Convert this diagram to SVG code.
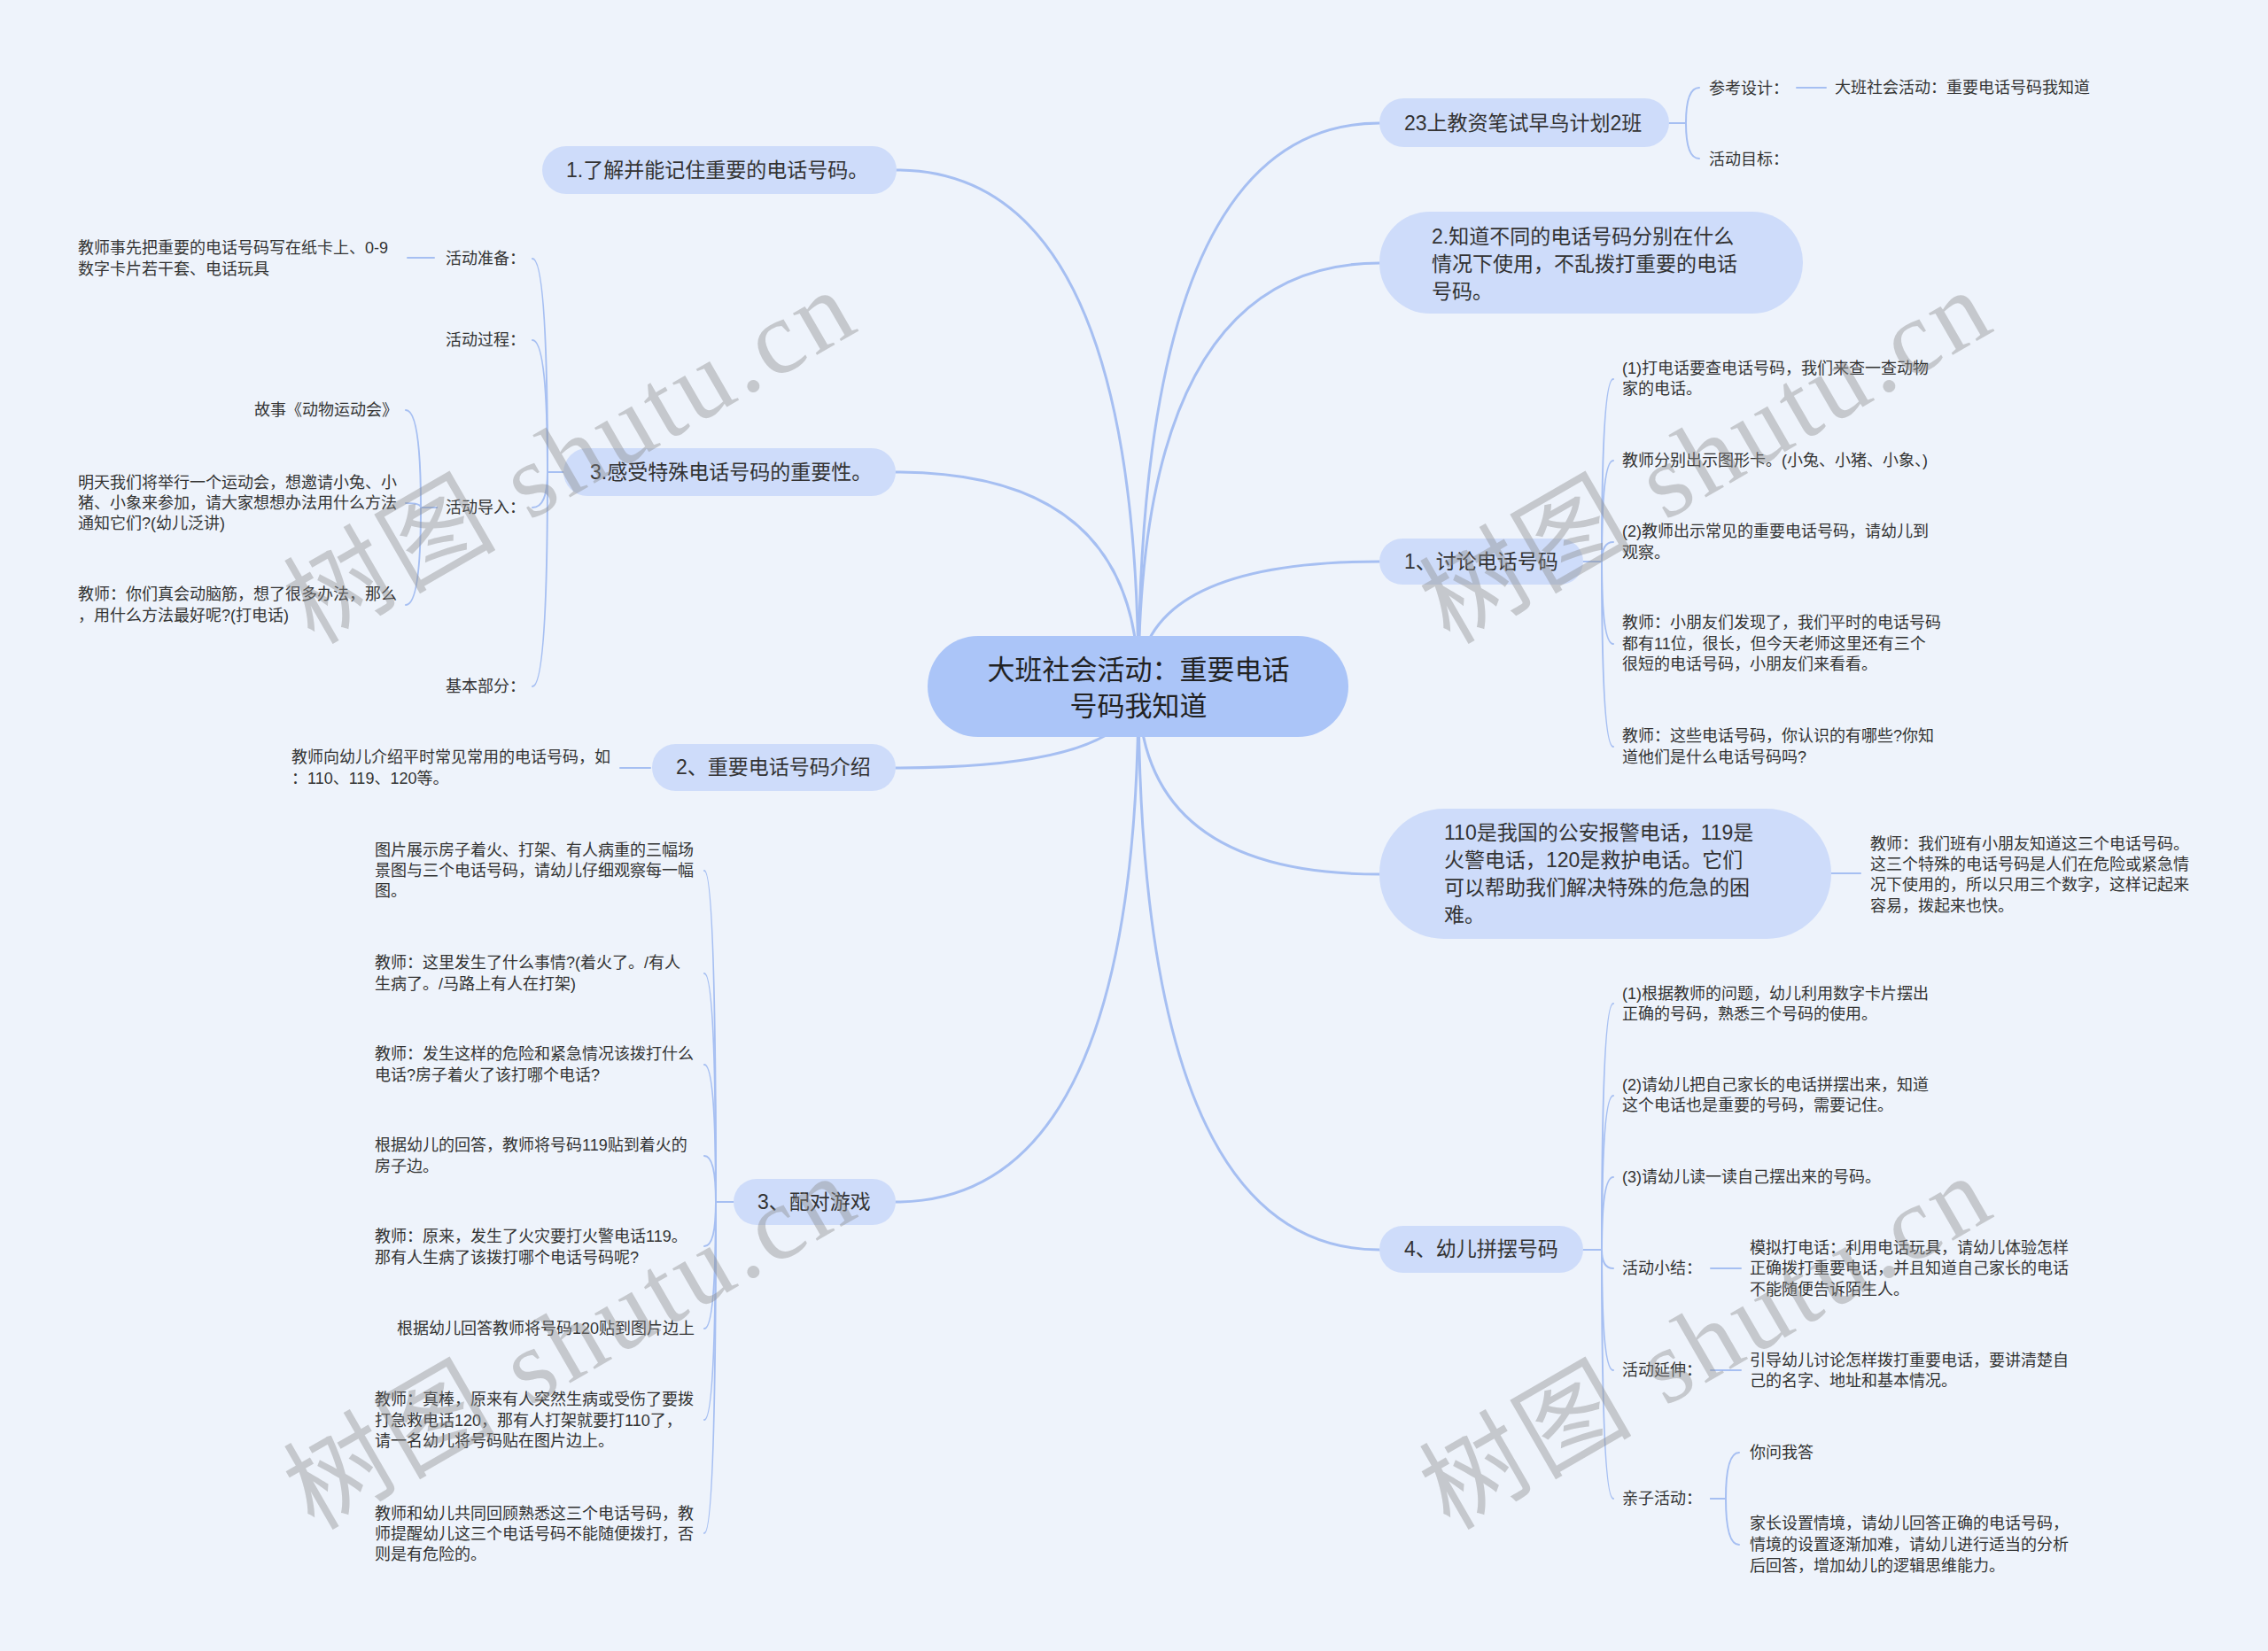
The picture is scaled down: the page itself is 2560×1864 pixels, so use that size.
<svg xmlns="http://www.w3.org/2000/svg" width="2560" height="1864" viewBox="0 0 2560 1864">
<style>
text{font-family:"Liberation Sans","Noto Sans CJK SC",sans-serif;fill:#333;dominant-baseline:central}
.ct{font-size:31px;fill:#222;text-anchor:middle}
.bt{font-size:23px}
.st{font-size:18px}
.e{text-anchor:end}
.cn{fill:#abc5f8}
.bn{fill:#cedcfa}
.m{fill:none;stroke:#a6bff2;stroke-width:3;stroke-linecap:round}
.k{fill:none;stroke:#a6bff2;stroke-width:2;stroke-linecap:round}
.wm{font-family:"Liberation Serif","Noto Sans CJK SC",serif;font-size:118px;letter-spacing:5px;fill:#8c8c8c;fill-opacity:0.42;text-anchor:middle}
</style>
<rect width="2560" height="1864" fill="#eef3fb"/>
<g id="connectors">
<path class="m" d="M1285 775 Q1285 192 1012 192"/>
<path class="m" d="M1285 775 Q1285 533 1011 533"/>
<path class="m" d="M1285 775 Q1285 867 1011 867"/>
<path class="m" d="M1285 775 Q1285 1357 1011 1357"/>
<path class="m" d="M1285 775 Q1285 139 1557 139"/>
<path class="m" d="M1285 775 Q1285 297 1557 297"/>
<path class="m" d="M1285 775 Q1285 634 1557 634"/>
<path class="m" d="M1285 775 Q1285 987 1557 987"/>
<path class="m" d="M1285 775 Q1285 1411 1557 1411"/>
<path class="k" d="M636 533 H618 Q618 292 601 292"/>
<path class="k" d="M636 533 H618 Q618 384 601 384"/>
<path class="k" d="M636 533 H618 Q618 573 601 573"/>
<path class="k" d="M636 533 H618 Q618 775 601 775"/>
<path class="k" d="M490 291 H460"/>
<path class="k" d="M493 573 H475 Q475 463 458 463"/>
<path class="k" d="M493 573 H475 Q475 568 458 568"/>
<path class="k" d="M493 573 H475 Q475 683 458 683"/>
<path class="k" d="M734 867 H700"/>
<path class="k" d="M828 1357 H808 Q808 983 795 983"/>
<path class="k" d="M828 1357 H808 Q808 1099 795 1099"/>
<path class="k" d="M828 1357 H808 Q808 1202 795 1202"/>
<path class="k" d="M828 1357 H808 Q808 1305 795 1305"/>
<path class="k" d="M828 1357 H808 Q808 1407 795 1407"/>
<path class="k" d="M828 1357 H808 Q808 1500 795 1500"/>
<path class="k" d="M828 1357 H808 Q808 1603 795 1603"/>
<path class="k" d="M828 1357 H808 Q808 1731 795 1731"/>
<path class="k" d="M1884 139 H1903 Q1903 99 1918 99"/>
<path class="k" d="M1884 139 H1903 Q1903 179 1918 179"/>
<path class="k" d="M2028 99 H2061"/>
<path class="k" d="M1787 634 H1808 Q1808 428 1821 428"/>
<path class="k" d="M1787 634 H1808 Q1808 520 1821 520"/>
<path class="k" d="M1787 634 H1808 Q1808 612 1821 612"/>
<path class="k" d="M1787 634 H1808 Q1808 727 1821 727"/>
<path class="k" d="M1787 634 H1808 Q1808 843 1821 843"/>
<path class="k" d="M2067 986 H2100"/>
<path class="k" d="M1787 1411 H1808 Q1808 1133 1821 1133"/>
<path class="k" d="M1787 1411 H1808 Q1808 1237 1821 1237"/>
<path class="k" d="M1787 1411 H1808 Q1808 1329 1821 1329"/>
<path class="k" d="M1787 1411 H1808 Q1808 1432 1821 1432"/>
<path class="k" d="M1787 1411 H1808 Q1808 1547 1821 1547"/>
<path class="k" d="M1787 1411 H1808 Q1808 1692 1821 1692"/>
<path class="k" d="M1931 1432 H1965"/>
<path class="k" d="M1931 1547 H1965"/>
<path class="k" d="M1931 1692 H1948 Q1948 1640 1963 1640"/>
<path class="k" d="M1931 1692 H1948 Q1948 1744 1963 1744"/>
</g>
<g id="center"><rect class="cn" x="1047" y="718" width="475" height="114" rx="57"/><text class="ct"><tspan x="1285" y="756">大班社会活动：重要电话</tspan><tspan x="1285" y="797">号码我知道</tspan></text></g>
<g id="L1"><rect class="bn" x="612" y="165" width="400" height="54" rx="27"/><text class="bt" x="639" y="192">1.了解并能记住重要的电话号码。</text></g>
<g id="L3"><rect class="bn" x="636" y="506" width="375" height="54" rx="27"/><text class="bt" x="666" y="533">3.感受特殊电话号码的重要性。</text></g>
<g id="L3a"><text class="st" x="503" y="292">活动准备：</text></g>
<g id="L3a1"><text class="st"><tspan x="88" y="280">教师事先把重要的电话号码写在纸卡上、0-9</tspan><tspan x="88" y="304">数字卡片若干套、电话玩具</tspan></text></g>
<g id="L3b"><text class="st" x="503" y="384">活动过程：</text></g>
<g id="L3c"><text class="st" x="503" y="573">活动导入：</text></g>
<g id="L3c1"><text class="st e" x="449" y="463">故事《动物运动会》</text></g>
<g id="L3c2"><text class="st"><tspan x="88" y="545">明天我们将举行一个运动会，想邀请小兔、小</tspan><tspan x="88" y="568">猪、小象来参加，请大家想想办法用什么方法</tspan><tspan x="88" y="591">通知它们?(幼儿泛讲)</tspan></text></g>
<g id="L3c3"><text class="st"><tspan x="88" y="671">教师：你们真会动脑筋，想了很多办法，那么</tspan><tspan x="88" y="695">，用什么方法最好呢?(打电话)</tspan></text></g>
<g id="L3d"><text class="st" x="503" y="775">基本部分：</text></g>
<g id="L2"><rect class="bn" x="736" y="840" width="275" height="53" rx="26.5"/><text class="bt" x="763" y="866">2、重要电话号码介绍</text></g>
<g id="L2a"><text class="st"><tspan x="329" y="855">教师向幼儿介绍平时常见常用的电话号码，如</tspan><tspan x="329" y="879">：110、119、120等。</tspan></text></g>
<g id="L4"><rect class="bn" x="828" y="1331" width="183" height="52" rx="26"/><text class="bt" x="855" y="1357">3、配对游戏</text></g>
<g id="L4a"><text class="st"><tspan x="423" y="960">图片展示房子着火、打架、有人病重的三幅场</tspan><tspan x="423" y="983">景图与三个电话号码，请幼儿仔细观察每一幅</tspan><tspan x="423" y="1006">图。</tspan></text></g>
<g id="L4b"><text class="st"><tspan x="423" y="1087">教师：这里发生了什么事情?(着火了。/有人</tspan><tspan x="423" y="1111">生病了。/马路上有人在打架)</tspan></text></g>
<g id="L4c"><text class="st"><tspan x="423" y="1190">教师：发生这样的危险和紧急情况该拨打什么</tspan><tspan x="423" y="1214">电话?房子着火了该打哪个电话?</tspan></text></g>
<g id="L4d"><text class="st"><tspan x="423" y="1293">根据幼儿的回答，教师将号码119贴到着火的</tspan><tspan x="423" y="1317">房子边。</tspan></text></g>
<g id="L4e"><text class="st"><tspan x="423" y="1396">教师：原来，发生了火灾要打火警电话119。</tspan><tspan x="423" y="1420">那有人生病了该拨打哪个电话号码呢?</tspan></text></g>
<g id="L4f"><text class="st e" x="784" y="1500">根据幼儿回答教师将号码120贴到图片边上</text></g>
<g id="L4g"><text class="st"><tspan x="423" y="1580">教师：真棒，原来有人突然生病或受伤了要拨</tspan><tspan x="423" y="1604">打急救电话120，那有人打架就要打110了，</tspan><tspan x="423" y="1627">请一名幼儿将号码贴在图片边上。</tspan></text></g>
<g id="L4h"><text class="st"><tspan x="423" y="1709">教师和幼儿共同回顾熟悉这三个电话号码，教</tspan><tspan x="423" y="1732">师提醒幼儿这三个电话号码不能随便拨打，否</tspan><tspan x="423" y="1755">则是有危险的。</tspan></text></g>
<g id="R1"><rect class="bn" x="1557" y="111" width="327" height="55" rx="27.5"/><text class="bt" x="1585" y="139">23上教资笔试早鸟计划2班</text></g>
<g id="R1a"><text class="st" x="1929" y="100">参考设计：</text></g>
<g id="R1a1"><text class="st" x="2071" y="99">大班社会活动：重要电话号码我知道</text></g>
<g id="R1b"><text class="st" x="1929" y="180">活动目标：</text></g>
<g id="R2"><rect class="bn" x="1557" y="239" width="478" height="115" rx="57"/><text class="bt"><tspan x="1616" y="267">2.知道不同的电话号码分别在什么</tspan><tspan x="1616" y="298">情况下使用，不乱拨打重要的电话</tspan><tspan x="1616" y="329">号码。</tspan></text></g>
<g id="R3"><rect class="bn" x="1557" y="608" width="230" height="52" rx="26"/><text class="bt" x="1585" y="634">1、讨论电话号码</text></g>
<g id="R3a"><text class="st"><tspan x="1831" y="416">(1)打电话要查电话号码，我们来查一查动物</tspan><tspan x="1831" y="439">家的电话。</tspan></text></g>
<g id="R3b"><text class="st" x="1831" y="520">教师分别出示图形卡。(小兔、小猪、小象、)</text></g>
<g id="R3c"><text class="st"><tspan x="1831" y="600">(2)教师出示常见的重要电话号码，请幼儿到</tspan><tspan x="1831" y="624">观察。</tspan></text></g>
<g id="R3d"><text class="st"><tspan x="1831" y="703">教师：小朋友们发现了，我们平时的电话号码</tspan><tspan x="1831" y="727">都有11位，很长，但今天老师这里还有三个</tspan><tspan x="1831" y="750">很短的电话号码，小朋友们来看看。</tspan></text></g>
<g id="R3e"><text class="st"><tspan x="1831" y="831">教师：这些电话号码，你认识的有哪些?你知</tspan><tspan x="1831" y="855">道他们是什么电话号码吗?</tspan></text></g>
<g id="R4"><rect class="bn" x="1557" y="913" width="510" height="147" rx="73"/><text class="bt"><tspan x="1630" y="940">110是我国的公安报警电话，119是</tspan><tspan x="1630" y="971">火警电话，120是救护电话。它们</tspan><tspan x="1630" y="1002">可以帮助我们解决特殊的危急的困</tspan><tspan x="1630" y="1033">难。</tspan></text></g>
<g id="R4a"><text class="st"><tspan x="2111" y="953">教师：我们班有小朋友知道这三个电话号码。</tspan><tspan x="2111" y="976">这三个特殊的电话号码是人们在危险或紧急情</tspan><tspan x="2111" y="999">况下使用的，所以只用三个数字，这样记起来</tspan><tspan x="2111" y="1023">容易，拨起来也快。</tspan></text></g>
<g id="R5"><rect class="bn" x="1557" y="1384" width="230" height="53" rx="26.5"/><text class="bt" x="1585" y="1410">4、幼儿拼摆号码</text></g>
<g id="R5a"><text class="st"><tspan x="1831" y="1122">(1)根据教师的问题，幼儿利用数字卡片摆出</tspan><tspan x="1831" y="1145">正确的号码，熟悉三个号码的使用。</tspan></text></g>
<g id="R5b"><text class="st"><tspan x="1831" y="1225">(2)请幼儿把自己家长的电话拼摆出来，知道</tspan><tspan x="1831" y="1248">这个电话也是重要的号码，需要记住。</tspan></text></g>
<g id="R5c"><text class="st" x="1831" y="1329">(3)请幼儿读一读自己摆出来的号码。</text></g>
<g id="R5d"><text class="st" x="1831" y="1432">活动小结：</text></g>
<g id="R5d1"><text class="st"><tspan x="1975" y="1409">模拟打电话：利用电话玩具，请幼儿体验怎样</tspan><tspan x="1975" y="1432">正确拨打重要电话，并且知道自己家长的电话</tspan><tspan x="1975" y="1456">不能随便告诉陌生人。</tspan></text></g>
<g id="R5e"><text class="st" x="1831" y="1547">活动延伸：</text></g>
<g id="R5e1"><text class="st"><tspan x="1975" y="1536">引导幼儿讨论怎样拨打重要电话，要讲清楚自</tspan><tspan x="1975" y="1559">己的名字、地址和基本情况。</tspan></text></g>
<g id="R5f"><text class="st" x="1831" y="1692">亲子活动：</text></g>
<g id="R5f1"><text class="st" x="1975" y="1640">你问我答</text></g>
<g id="R5f2"><text class="st"><tspan x="1975" y="1720">家长设置情境，请幼儿回答正确的电话号码，</tspan><tspan x="1975" y="1744">情境的设置逐渐加难，请幼儿进行适当的分析</tspan><tspan x="1975" y="1768">后回答，增加幼儿的逻辑思维能力。</tspan></text></g>
<g id="watermark">
<text class="wm" transform="translate(645 515) rotate(-30)">树图 shutu.cn</text>
<text class="wm" transform="translate(1927 515) rotate(-30)">树图 shutu.cn</text>
<text class="wm" transform="translate(645 1515) rotate(-30)">树图 shutu.cn</text>
<text class="wm" transform="translate(1927 1515) rotate(-30)">树图 shutu.cn</text>
</g>
</svg>
